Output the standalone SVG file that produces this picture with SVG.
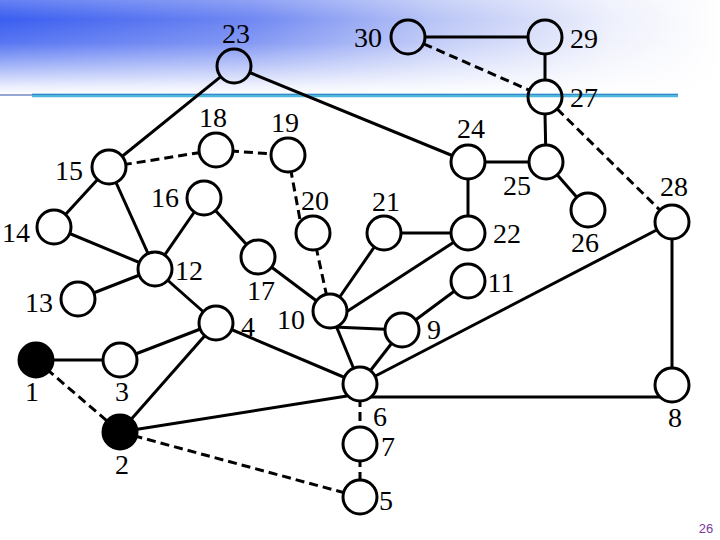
<svg xmlns="http://www.w3.org/2000/svg" width="720" height="540" viewBox="0 0 720 540">
<defs>
<linearGradient id="hg" x1="0" y1="0" x2="1" y2="0">
<stop offset="0" stop-color="#3a5ef0"/>
<stop offset="0.35" stop-color="#7088f2"/>
<stop offset="0.6" stop-color="#b8c4f6"/>
<stop offset="0.85" stop-color="#eef0fc"/>
<stop offset="1" stop-color="#ffffff"/>
</linearGradient>
<linearGradient id="vg" x1="0" y1="0" x2="0" y2="1">
<stop offset="0" stop-color="#fff" stop-opacity="0.22"/>
<stop offset="0.2" stop-color="#fff" stop-opacity="0"/>
<stop offset="0.45" stop-color="#fff" stop-opacity="0.15"/>
<stop offset="0.7" stop-color="#fff" stop-opacity="0.55"/>
<stop offset="0.9" stop-color="#fff" stop-opacity="0.88"/>
<stop offset="1" stop-color="#fff" stop-opacity="1"/>
</linearGradient>
</defs>
<style>
.e{stroke:#000;stroke-width:3;fill:none}
.d{stroke:#000;stroke-width:3;fill:none;stroke-dasharray:9 5}
.n{stroke:#000;stroke-width:3;fill:#fff}
.o{stroke:#000;stroke-width:3;fill:none}
.f{stroke:#000;stroke-width:3;fill:#000}
text{font-family:"Liberation Serif","Times New Roman",serif;font-size:28px;fill:#000}
.pg{font-family:"Liberation Sans",Arial,sans-serif;font-size:13px;fill:#7a3aa0}
</style>
<rect width="720" height="540" fill="#fff"/>
<rect width="720" height="95" fill="url(#hg)"/>
<rect width="720" height="95" fill="url(#vg)"/>
<line x1="0" y1="95" x2="32" y2="95" stroke="#2a4fa8" stroke-width="1"/>
<line x1="32" y1="95.5" x2="678" y2="95.5" stroke="#4db8dc" stroke-width="3.5"/>
<line x1="32" y1="94.3" x2="678" y2="94.3" stroke="#2a6fc0" stroke-width="0.8"/>

<g id="connectors">
<line class="e" x1="220.8" y1="76.7" x2="109" y2="167"/>
<line class="e" x1="249.7" y1="72.5" x2="468" y2="162"/>
<line class="e" x1="425" y1="37" x2="528" y2="37"/>
<line class="d" x1="423.6" y1="43.8" x2="529.4" y2="90.2"/>
<line class="e" x1="545" y1="54" x2="545" y2="80"/>
<line class="e" x1="545" y1="114" x2="546" y2="162"/>
<line class="d" x1="557.1" y1="108.9" x2="672" y2="222"/>
<line class="e" x1="468" y1="162" x2="546" y2="162"/>
<line class="e" x1="468" y1="162" x2="468" y2="233"/>
<line class="e" x1="546" y1="162" x2="588" y2="210"/>
<line class="e" x1="384" y1="233" x2="468" y2="233"/>
<line class="e" x1="384" y1="233" x2="330" y2="311"/>
<line class="e" x1="468" y1="233" x2="340" y2="316"/>
<line class="d" x1="109" y1="167" x2="216" y2="150"/>
<line class="d" x1="216" y1="150" x2="288" y2="155"/>
<line class="d" x1="288" y1="155" x2="301" y2="225"/>
<line class="d" x1="313" y1="233" x2="330" y2="311"/>
<line class="e" x1="109" y1="167" x2="54" y2="227"/>
<line class="e" x1="109" y1="167" x2="155" y2="269"/>
<line class="e" x1="54" y1="227" x2="155" y2="269"/>
<line class="e" x1="204" y1="198" x2="155" y2="269"/>
<line class="e" x1="204" y1="198" x2="258" y2="257"/>
<line class="e" x1="78" y1="299" x2="155" y2="269"/>
<line class="e" x1="155" y1="269" x2="216" y2="323"/>
<line class="e" x1="258" y1="257" x2="330" y2="311"/>
<line class="e" x1="334" y1="327" x2="402" y2="330"/>
<line class="e" x1="330" y1="311" x2="360" y2="384"/>
<line class="e" x1="468" y1="281" x2="402" y2="330"/>
<line class="e" x1="402" y1="330" x2="360" y2="384"/>
<line class="e" x1="672" y1="222" x2="360" y2="384"/>
<line class="e" x1="672" y1="222" x2="672" y2="385"/>
<line class="e" x1="360" y1="397" x2="672" y2="397"/>
<line class="e" x1="36" y1="360" x2="120" y2="360"/>
<line class="e" x1="120" y1="360" x2="216" y2="323"/>
<line class="e" x1="216" y1="323" x2="120" y2="432"/>
<line class="e" x1="216" y1="323" x2="360" y2="384"/>
<line class="e" x1="120" y1="432" x2="347" y2="396"/>
<line class="d" x1="36" y1="360" x2="120" y2="432"/>
<line class="d" x1="120" y1="432" x2="360" y2="497"/>
<line class="d" x1="360" y1="384" x2="360" y2="444"/>
<line class="d" x1="360" y1="444" x2="360" y2="497"/>
</g>

<g id="n23"><circle class="o" cx="234" cy="66" r="17"/><text x="236" y="43" text-anchor="middle">23</text></g>
<g id="n30"><circle class="o" cx="408" cy="37" r="17"/><text x="368" y="47" text-anchor="middle">30</text></g>
<g id="n29"><circle class="o" cx="545" cy="37" r="17"/><text x="584" y="48" text-anchor="middle">29</text></g>
<g id="n27"><circle class="o" cx="545" cy="97" r="17"/><text x="584" y="107" text-anchor="middle">27</text></g>
<g id="n24"><circle class="n" cx="468" cy="162" r="17"/><text x="471" y="138" text-anchor="middle">24</text></g>
<g id="n25"><circle class="n" cx="546" cy="162" r="17"/><text x="517" y="195" text-anchor="middle">25</text></g>
<g id="n26"><circle class="n" cx="588" cy="210" r="17"/><text x="585" y="252" text-anchor="middle">26</text></g>
<g id="n28"><circle class="n" cx="672" cy="222" r="17"/><text x="674" y="196" text-anchor="middle">28</text></g>
<g id="n18"><circle class="n" cx="216" cy="150" r="17"/><text x="213" y="127" text-anchor="middle">18</text></g>
<g id="n19"><circle class="n" cx="288" cy="155" r="17"/><text x="285" y="132" text-anchor="middle">19</text></g>
<g id="n15"><circle class="n" cx="109" cy="167" r="17"/><text x="69" y="180" text-anchor="middle">15</text></g>
<g id="n16"><circle class="n" cx="204" cy="198" r="17"/><text x="165" y="207" text-anchor="middle">16</text></g>
<g id="n14"><circle class="n" cx="54" cy="227" r="17"/><text x="16" y="242" text-anchor="middle">14</text></g>
<g id="n20"><circle class="n" cx="313" cy="233" r="17"/><text x="315" y="210" text-anchor="middle">20</text></g>
<g id="n21"><circle class="n" cx="384" cy="233" r="17"/><text x="386" y="211" text-anchor="middle">21</text></g>
<g id="n22"><circle class="n" cx="468" cy="233" r="17"/><text x="507" y="243" text-anchor="middle">22</text></g>
<g id="n12"><circle class="n" cx="155" cy="269" r="17"/><text x="189" y="280" text-anchor="middle">12</text></g>
<g id="n17"><circle class="n" cx="258" cy="257" r="17"/><text x="261" y="300" text-anchor="middle">17</text></g>
<g id="n11"><circle class="n" cx="468" cy="281" r="17"/><text x="501" y="292" text-anchor="middle">11</text></g>
<g id="n13"><circle class="n" cx="78" cy="299" r="17"/><text x="39" y="312" text-anchor="middle">13</text></g>
<g id="n4"><circle class="n" cx="216" cy="323" r="17"/><text x="248" y="336" text-anchor="middle">4</text></g>
<g id="n10"><circle class="n" cx="330" cy="311" r="17"/><text x="291" y="329" text-anchor="middle">10</text></g>
<g id="n9"><circle class="n" cx="402" cy="330" r="17"/><text x="434" y="339" text-anchor="middle">9</text></g>
<g id="n1"><circle class="f" cx="36" cy="360" r="17"/><text x="32" y="401" text-anchor="middle">1</text></g>
<g id="n3"><circle class="n" cx="120" cy="360" r="17"/><text x="122" y="401" text-anchor="middle">3</text></g>
<g id="n6"><circle class="n" cx="360" cy="384" r="17"/><text x="380" y="426" text-anchor="middle">6</text></g>
<g id="n8"><circle class="n" cx="672" cy="385" r="17"/><text x="675" y="427" text-anchor="middle">8</text></g>
<g id="n2"><circle class="f" cx="120" cy="432" r="17"/><text x="122" y="474" text-anchor="middle">2</text></g>
<g id="n7"><circle class="n" cx="360" cy="444" r="17"/><text x="388" y="456" text-anchor="middle">7</text></g>
<g id="n5"><circle class="n" cx="360" cy="497" r="17"/><text x="386" y="510" text-anchor="middle">5</text></g>
<text class="pg" x="706" y="533" text-anchor="middle">26</text>
</svg>
